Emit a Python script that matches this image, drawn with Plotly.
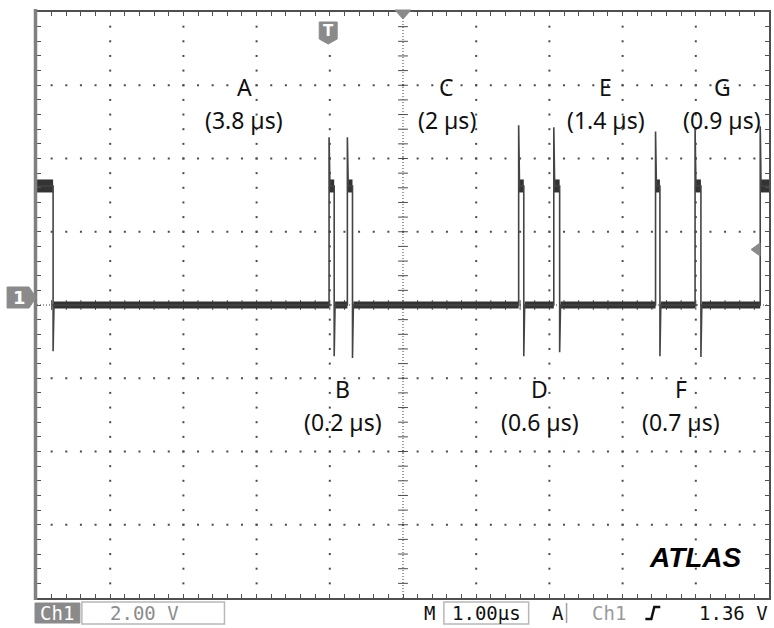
import numpy as np
import plotly.graph_objects as go

# ---------------- data (time in µs, voltage in V) ----------------
initial_fall_us = 0.22
initial_undershoot_v = -1.26
rise_us = [3.99, 4.24, 6.58, 7.06, 8.45, 8.99, 9.88]
fall_us = [4.06, 4.31, 6.65, 7.14, 8.51, 9.07, None]
peak_v = [4.58, 4.58, 4.91, 4.85, 4.74, 4.85, 4.88]
undershoot_v = [-1.40, -1.45, -1.40, -1.29, -1.40, -1.42, None]
high_v = 3.25
base_v = 0.0
t_end_us = 10.0

gap_letters = ["A", "B", "C", "D", "E", "F", "G"]
gap_widths = ["(3.8 µs)", "(0.2 µs)", "(2 µs)", "(0.6 µs)", "(1.4 µs)", "(0.7 µs)", "(0.9 µs)"]

# ---------------- layout geometry ----------------
W, H = 774, 628
L, R, T, B = 37, 3, 12, 30
PW, PH = W - L - R, H - T - B
X_RANGE = [0, 10]
Y_RANGE = [-8, 8]
eps = 0.012


def px(x):
    return (x - L) / PW


def py(y):
    return (H - B - y) / PH


# ---------------- waveform construction ----------------
wt = [0, initial_fall_us, initial_fall_us, initial_fall_us + eps]
wv = [high_v, high_v, initial_undershoot_v, base_v]
for tr, tf, pk, us in zip(rise_us, fall_us, peak_v, undershoot_v):
    wt += [tr, tr, tr + eps]
    wv += [base_v, pk, high_v]
    if tf is None:
        wt += [t_end_us]
        wv += [high_v]
    else:
        wt += [tf, tf, tf + eps]
        wv += [high_v, us, base_v]

# thick noisy bands: baseline and high-level segments
bt, bv = [], []
starts = [initial_fall_us + eps] + [tf + eps for tf in fall_us if tf is not None]
for s, e in zip(starts, rise_us):
    bt += [s, e, None]
    bv += [base_v, base_v, None]
ht, hv = [0, initial_fall_us, None], [high_v, high_v, None]
for tr, tf in zip(rise_us, fall_us):
    e = t_end_us if tf is None else tf
    ht += [tr, e, None]
    hv += [high_v, high_v, None]

fig = go.Figure()

# ---------------- graticule dots ----------------
minor_x = np.round(np.arange(0, 10.0001, 0.2), 4)
minor_y = np.round(np.arange(-8, 8.0001, 0.4), 4)
gx, gy = [], []
for v in [-6, -4, -2, 2, 4, 6]:
    for t in minor_x[1:-1]:
        gx.append(t)
        gy.append(v)
for t in [1, 2, 3, 4, 6, 7, 8, 9]:
    for v in minor_y[1:-1]:
        gx.append(t)
        gy.append(v)
fig.add_trace(go.Scatter(x=gx, y=gy, mode="markers", hoverinfo="skip",
                         marker=dict(symbol="square", size=2, color="#4a4a4a", line_width=0)))
# center-line ticks
fig.add_trace(go.Scatter(x=list(minor_x[1:-1]), y=[0] * (len(minor_x) - 2), mode="markers",
                         hoverinfo="skip",
                         marker=dict(symbol="line-ns", size=7, line=dict(width=1, color="#4a4a4a"))))
fig.add_trace(go.Scatter(x=[5] * (len(minor_y) - 2), y=list(minor_y[1:-1]), mode="markers",
                         hoverinfo="skip",
                         marker=dict(symbol="line-ew", size=7, line=dict(width=1, color="#4a4a4a"))))

# ---------------- waveform ----------------
fig.add_trace(go.Scatter(x=bt, y=bv, mode="lines", hoverinfo="skip",
                         line=dict(color="#333333", width=7)))
fig.add_trace(go.Scatter(x=ht, y=hv, mode="lines", hoverinfo="skip",
                         line=dict(color="#333333", width=13)))
fig.add_trace(go.Scatter(x=wt, y=wv, mode="lines", hoverinfo="skip",
                         line=dict(color="#444444", width=1.6)))

# ---------------- shapes ----------------
shapes = [
    dict(type="line", xref="x", yref="y", x0=5, x1=5, y0=-8, y1=8, layer="below",
         line=dict(color="#3a3a3a", width=1, dash="1px,2px")),
    dict(type="line", xref="x", yref="y", x0=0, x1=10, y0=0, y1=0, layer="below",
         line=dict(color="#3a3a3a", width=1, dash="1px,2px")),
    # left grey border
    dict(type="line", xref="paper", yref="paper", x0=px(35.5), x1=px(35.5), y0=py(9), y1=py(600),
         line=dict(color="#808080", width=3.5)),
]


def path_shape(pts, color):
    d = "M " + " L ".join(f"{px(x):.5f},{py(y):.5f}" for x, y in pts) + " Z"
    return dict(type="path", xref="paper", yref="paper", path=d,
                fillcolor=color, line=dict(color=color, width=1))


shapes += [
    path_shape([(7, 287), (29, 287), (36, 297.5), (29, 308), (7, 308)], "#8a8a8a"),   # ch1 ground
    path_shape([(320, 22), (338, 22), (338, 39), (329, 44), (320, 39)], "#8a8a8a"),    # trigger pos
    path_shape([(396, 10), (412, 10), (404, 19)], "#8a8a8a"),                          # center mark
    path_shape([(762, 243), (762, 256), (753, 249.5)], "#8a8a8a"),                     # trigger level
]

# status bar
shapes += [
    dict(type="rect", xref="paper", yref="paper", x0=px(35), x1=px(80), y0=py(603), y1=py(623),
         fillcolor="#8a8a8a", line=dict(color="#8a8a8a", width=1)),
    dict(type="rect", xref="paper", yref="paper", x0=px(82), x1=px(225), y0=py(602), y1=py(624),
         line=dict(color="#b8b8b8", width=1.5)),
    dict(type="rect", xref="paper", yref="paper", x0=px(445), x1=px(530), y0=py(602), y1=py(624),
         line=dict(color="#b8b8b8", width=1.5)),
    dict(type="line", xref="paper", yref="paper", x0=px(568), x1=px(568), y0=py(603), y1=py(623),
         line=dict(color="#a0a0a0", width=1.5)),
    dict(type="path", xref="paper", yref="paper",
         path=f"M {px(647):.5f},{py(619):.5f} L {px(653):.5f},{py(619):.5f} L {px(656):.5f},{py(607):.5f} L {px(662):.5f},{py(607):.5f}",
         line=dict(color="#111111", width=2.5)),
]

# ---------------- annotations ----------------
label_pos_top = [(2.83, 5.94), (5.60, 5.94), (7.77, 5.94), (9.36, 5.94)]
label_pos_bot = [(4.18, -2.3), (6.87, -2.3), (8.80, -2.3)]
top_idx = [0, 2, 4, 6]
bot_idx = [1, 3, 5]
annotations = []
lab_font = dict(family="Noto Sans, Open Sans, sans-serif", size=23, color="#111111")
C = dict(xanchor="center", yanchor="middle", showarrow=False)
for i, (tx, ty) in zip(top_idx, label_pos_top):
    annotations.append(dict(x=tx, y=ty, xref="x", yref="y", text=gap_letters[i], font=lab_font, **C))
    annotations.append(dict(x=tx, y=ty - 0.9, xref="x", yref="y", text=gap_widths[i], font=lab_font, **C))
for i, (tx, ty) in zip(bot_idx, label_pos_bot):
    annotations.append(dict(x=tx, y=ty, xref="x", yref="y", text=gap_letters[i], font=lab_font, **C))
    annotations.append(dict(x=tx, y=ty - 0.9, xref="x", yref="y", text=gap_widths[i], font=lab_font, **C))

annotations.append(dict(x=px(697), y=py(557), xref="paper", yref="paper", text="<b><i>ATLAS</i></b>",
                        font=dict(family="Liberation Sans, Arial, sans-serif", size=28, color="#000000"), **C))

mono = "DejaVu Sans Mono, monospace"


def bar_text(x, text, color):
    return dict(x=px(x), y=py(613), xref="paper", yref="paper", text=text,
                font=dict(family=mono, size=19, color=color), **C)


annotations += [
    bar_text(57.5, "Ch1", "#ffffff"),
    bar_text(145, "2.00 V", "#8c8c8c"),
    bar_text(431, "M", "#111111"),
    bar_text(488, "1.00µs", "#111111"),
    bar_text(559, "A", "#111111"),
    bar_text(611, "Ch1", "#9a9a9a"),
    bar_text(735, "1.36 V", "#111111"),
    dict(x=px(19), y=py(297.5), xref="paper", yref="paper", text="<b>1</b>",
         font=dict(family="DejaVu Sans, sans-serif", size=18, color="#ffffff"), **C),
    dict(x=px(329), y=py(31), xref="paper", yref="paper", text="<b>T</b>",
         font=dict(family="DejaVu Sans, sans-serif", size=15, color="#ffffff"), **C),
]

axis_common = dict(showgrid=False, zeroline=False, showticklabels=False, showline=True, mirror="ticks",
                   linecolor="#505050", linewidth=1.5, ticks="inside", ticklen=4, tickwidth=1,
                   tickcolor="#505050", fixedrange=True)
fig.update_layout(
    width=W, height=H, margin=dict(l=L, r=R, t=T, b=B, pad=0),
    paper_bgcolor="white", plot_bgcolor="white", showlegend=False,
    xaxis=dict(range=X_RANGE, dtick=0.2, tick0=0, **axis_common),
    yaxis=dict(range=Y_RANGE, dtick=0.4, tick0=0, **axis_common),
    shapes=shapes, annotations=annotations,
)

fig.write_html("out.html", config={"displayModeBar": False},
               post_script="document.body.style.margin='0';document.body.style.overflow='hidden';")
